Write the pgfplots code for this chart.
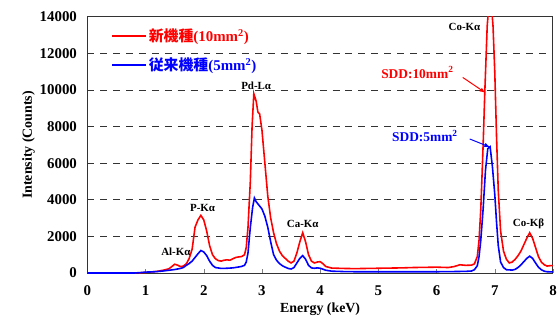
\documentclass[border=0pt]{standalone}
\usepackage{pgfplots}
\pgfplotsset{compat=1.18}
\usepackage{fontspec}
\setmainfont{Liberation Serif}
\newfontfamily\cjk{Noto Sans CJK JP}
\definecolor{myred}{RGB}{255,0,0}
\definecolor{myblue}{RGB}{0,0,255}
\begin{document}
\begin{tikzpicture}
\begin{axis}[
  scale only axis, width=469pt, height=258pt,
  xmin=0, xmax=8, ymin=0, ymax=14000,
  xtick={0,1,...,8}, ytick={0,2000,...,14000},
  scaled ticks=false,
  xticklabels={0,1,2,3,4,5,6,7,8},
  yticklabels={0,2000,4000,6000,8000,10000,12000,14000},
  tick label style={font=\fontsize{15}{15}\selectfont\bfseries},
  xticklabel style={yshift=-9pt},
  yticklabel style={xshift=-7pt},
  ymajorgrids, major grid style={black!80, line width=0.9pt, dash pattern=on 7pt off 6pt},
  axis line style={black!80, line width=1pt},
  tick align=inside, xtick pos=bottom, ytick pos=left,
  major tick length=4pt, ytick style={draw=none},
  xlabel={\bfseries Energy (keV)}, ylabel={\bfseries Intensity (Counts)},
  label style={font=\fontsize{14}{14}\selectfont},
  xlabel style={yshift=-1pt}, ylabel style={yshift=-2pt},
  legend style={draw=none, fill=none, at={(0.045,0.97)}, anchor=north west,
    font=\fontsize{15}{15}\selectfont\bfseries, row sep=11pt},
  legend cell align=left,
  legend image code/.code={\draw[#1, line width=1.6pt] (0pt,0pt) -- (34pt,0pt);},
  clip=true,
]
\addplot[myred, line width=1.6pt] coordinates {
(0,0) (0.5,0) (0.9,10) (1.0,30) (1.1,60) (1.2,90) (1.3,150) (1.4,230) (1.45,350) (1.5,480) (1.55,430)
(1.6,350) (1.65,380) (1.7,500) (1.75,800) (1.8,1300) (1.85,2500) (1.9,2900) (1.95,3150) (2.0,2900)
(2.05,2300) (2.1,1500) (2.15,1000) (2.2,780) (2.25,680) (2.3,650) (2.35,700) (2.4,720) (2.45,700)
(2.5,780) (2.55,850) (2.6,880) (2.65,900) (2.7,1000) (2.73,1400) (2.76,2500) (2.8,5000) (2.83,8000)
(2.86,9800) (2.9,9400) (2.93,8800) (2.96,8700) (3.0,7800) (3.05,6000) (3.1,4200) (3.15,3000) (3.2,2200)
(3.25,1600) (3.3,1200) (3.35,950) (3.4,800) (3.45,650) (3.5,550) (3.55,650) (3.6,1100) (3.65,1700)
(3.7,2200) (3.75,1700) (3.8,1000) (3.85,650) (3.9,550) (3.95,600) (4.0,620) (4.05,500) (4.1,350)
(4.2,270) (4.4,250) (4.6,240) (4.8,250) (5.0,260) (5.2,270) (5.4,280) (5.6,300) (5.8,310) (6.0,320)
(6.2,300) (6.3,350) (6.4,450) (6.5,420) (6.6,430) (6.65,500) (6.7,900) (6.73,1800) (6.76,3500)
(6.8,7000) (6.83,10000) (6.87,13500) (6.92,15500) (6.97,13500) (7.0,11000) (7.03,7500) (7.06,4500)
(7.1,2300) (7.15,1200) (7.2,750) (7.25,550) (7.3,600) (7.35,750) (7.4,950) (7.45,1200) (7.5,1550)
(7.55,1900) (7.6,2200) (7.65,1900) (7.7,1400) (7.75,900) (7.8,600) (7.85,450) (7.9,380) (7.95,400) (8.0,400)
};
\addlegendentry{\color{myred}{\cjk\bfseries 新機種}(10mm\textsuperscript{2})}
\addplot[myblue, line width=1.6pt] coordinates {
(0,0) (0.8,0) (0.9,20) (1.0,50) (1.1,60) (1.2,80) (1.3,110) (1.4,150) (1.5,190) (1.6,250) (1.65,300)
(1.7,420) (1.75,520) (1.8,650) (1.85,850) (1.9,1050) (1.95,1230) (2.0,1150) (2.05,950) (2.1,650)
(2.15,420) (2.2,300) (2.3,250) (2.4,260) (2.5,280) (2.6,330) (2.65,360) (2.7,420) (2.73,600)
(2.76,1100) (2.8,2500) (2.84,3600) (2.87,4100) (2.9,3900) (2.95,3700) (3.0,3500) (3.05,3100)
(3.1,2500) (3.15,1700) (3.2,1000) (3.25,700) (3.3,520) (3.35,400) (3.4,320) (3.45,250) (3.5,220)
(3.55,300) (3.6,550) (3.65,800) (3.7,950) (3.75,750) (3.8,420) (3.85,280) (3.9,260) (3.95,280)
(4.0,260) (4.1,150) (4.2,100) (4.4,80) (4.6,70) (4.8,70) (5.0,70) (5.5,70) (6.0,70) (6.3,80)
(6.5,90) (6.6,110) (6.65,180) (6.7,400) (6.73,900) (6.76,1800) (6.8,3500) (6.84,5600) (6.88,6800)
(6.92,6900) (6.96,5800) (7.0,4300) (7.03,2800) (7.06,1500) (7.1,600) (7.15,300) (7.2,180) (7.3,160)
(7.35,200) (7.4,300) (7.45,450) (7.5,620) (7.55,800) (7.6,920) (7.65,800) (7.7,550) (7.75,320)
(7.8,180) (7.85,100) (7.9,70) (8.0,60)
};
\addlegendentry{\color{myblue}{\cjk\bfseries 従来機種}(5mm\textsuperscript{2})}
\end{axis}
\begin{axis}[
  scale only axis, width=469pt, height=258pt,
  xmin=0, xmax=8, ymin=0, ymax=14000,
  axis lines=none, clip=false,
]
\begin{scope}[font=\fontsize{11}{11}\selectfont\bfseries]
\node at (axis cs:1.52,1140) {Al-Kα};
\node at (axis cs:1.98,3530) {P-Kα};
\node at (axis cs:2.90,10255) {Pd-Lα};
\node at (axis cs:3.70,2660) {Ca-Kα};
\node at (axis cs:6.48,13460) {Co-Kα};
\node at (axis cs:7.58,2710) {Co-Kβ};
\end{scope}
\node[myred, font=\fontsize{13.5}{13.5}\selectfont\bfseries] at (axis cs:5.67,10960) {SDD:10mm\textsuperscript{2}};
\draw[myred, line width=1pt, -latex] (axis cs:6.45,10690) -- (axis cs:6.84,9850);
\node[myblue, font=\fontsize{13.5}{13.5}\selectfont\bfseries] at (axis cs:5.80,7490) {SDD:5mm\textsuperscript{2}};
\draw[myblue, line width=1pt, -latex] (axis cs:6.57,7325) -- (axis cs:6.92,6880);
\end{axis}
\path ([xshift=-88pt,yshift=-52pt]current axis.south west) rectangle ([xshift=3pt,yshift=17pt]current axis.north east);
\end{tikzpicture}
\end{document}
